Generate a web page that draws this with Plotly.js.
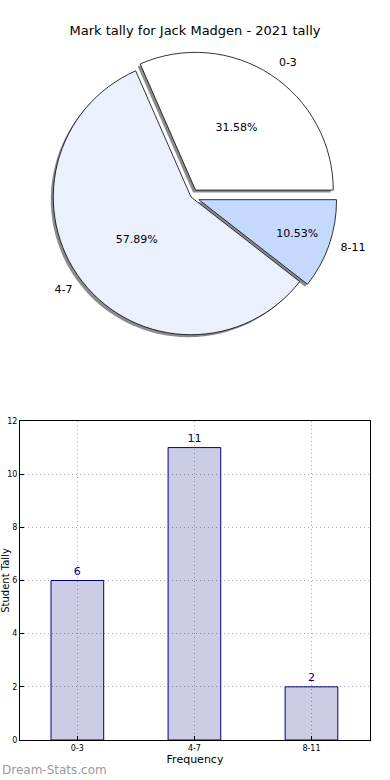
<!DOCTYPE html>
<html><head><meta charset="utf-8">
<script src="https://cdn.plot.ly/plotly-3.0.1.min.js"></script>
<style>html,body{margin:0;padding:0;background:#fff}#chart{width:390px;height:780px}</style>
</head><body><div id="chart"></div>
<script>
const titleText = "Mark tally for Jack Madgen - 2021 tally";
const categories = ["0-3", "4-7", "8-11"];
const counts = [6, 11, 2];
const pieColors = ["#ffffff", "#eaf0fe", "#c5d9ff"];
const pulls = [0.06, 0, 0.06];

const W = 390, H = 780, mL = 20, mR = 20, mT = 10, mB = 40;
const pw = W - mL - mR, ph = H - mT - mB;
const fx = p => (p - mL) / pw;
const fy = p => (H - mB - p) / ph;
const box = (cx, cy, h, dx, dy) => ({
  x: [fx(cx - h + dx), fx(cx + h + dx)],
  y: [fy(cy + h + dy), fy(cy - h + dy)]
});

const cx = 191, cy = 197, half = 146;
const dom = box(cx, cy, half, 0, 0);
const shadowDom = box(cx, cy, half, -2.5, 2.5);
const labelDom = box(cx, cy, half * 1.06, 0, 0);

const total = counts.reduce((a, b) => a + b, 0);
// first slice starts at 3 o'clock and runs counter-clockwise (matplotlib default)
const rot = 90 - 360 * counts[0] / total;

const font = "DejaVu Sans, sans-serif";
const common = {
  type: "pie", labels: categories, values: counts, sort: false,
  direction: "counterclockwise", rotation: rot, pull: pulls,
  hoverinfo: "skip", showlegend: false
};

const shadow = Object.assign({}, common, {
  domain: shadowDom,
  marker: {colors: ["#8c8c8c", "#8c8c8c", "#8c8c8c"], line: {width: 0}},
  textinfo: "none"
});
const labelRing = Object.assign({}, common, {
  domain: labelDom,
  marker: {colors: ["rgba(0,0,0,0)", "rgba(0,0,0,0)", "rgba(0,0,0,0)"], line: {width: 0}},
  textinfo: "label", textposition: "outside",
  outsidetextfont: {family: font, size: 11, color: "#000"}
});
const pie = Object.assign({}, common, {
  domain: dom,
  marker: {colors: pieColors, line: {color: "#000", width: 0.8}},
  texttemplate: "%{percent:.2%}", textposition: "inside", insidetextorientation: "horizontal",
  textfont: {family: font, size: 11, color: "#000"}
});
const bars = {
  type: "bar", x: categories, y: counts, width: 0.45,
  marker: {color: "rgba(0,0,128,0.2)", line: {color: "navy", width: 1}},
  text: counts.map(String), textposition: "outside", cliponaxis: false,
  textfont: {family: font, size: 11, color: "navy"},
  xaxis: "x", yaxis: "y", showlegend: false
};

const layout = {
  width: W, height: H,
  margin: {l: mL, r: mR, t: mT, b: mB},
  paper_bgcolor: "#fff", plot_bgcolor: "#fff",
  font: {family: font, color: "#000"},
  title: {text: titleText, font: {family: font, size: 13, color: "#000"}, x: 0.5, xanchor: "center", y: 1 - 30 / H, yanchor: "middle", yref: "container"},
  xaxis: {
    type: "category", range: [-0.49, 2.5], domain: [0, 1], anchor: "y",
    showline: true, linecolor: "#000", linewidth: 1, mirror: true,
    ticks: "inside", ticklen: 4, tickcolor: "#000",
    showgrid: true, gridcolor: "#a8a8a8", griddash: "1px,3px", gridwidth: 1,
    tickfont: {family: font, size: 8, color: "#000"},
    title: {text: "Frequency", font: {family: font, size: 11, color: "#000"}, standoff: 1}
  },
  yaxis: {
    range: [0, 12], dtick: 2, domain: [0, fy(421)], anchor: "x",
    showline: true, linecolor: "#000", linewidth: 1, mirror: true,
    ticks: "inside", ticklen: 4, tickcolor: "#000",
    showgrid: true, gridcolor: "#a8a8a8", griddash: "1px,3px", gridwidth: 1, zeroline: false,
    tickfont: {family: font, size: 8, color: "#000"},
    automargin: false,
    title: {text: "Student Tally", font: {family: font, size: 10, color: "#000"}, standoff: 11}
  },
  annotations: [{
    text: "Dream-Stats.com", xref: "paper", yref: "paper",
    x: fx(0), y: fy(770), xanchor: "left", yanchor: "middle", showarrow: false,
    font: {family: font, size: 12, color: "#9a9a9a"}
  }]
};

Plotly.newPlot("chart", [shadow, labelRing, pie, bars], layout, {displayModeBar: false, staticPlot: true});
</script></body></html>
